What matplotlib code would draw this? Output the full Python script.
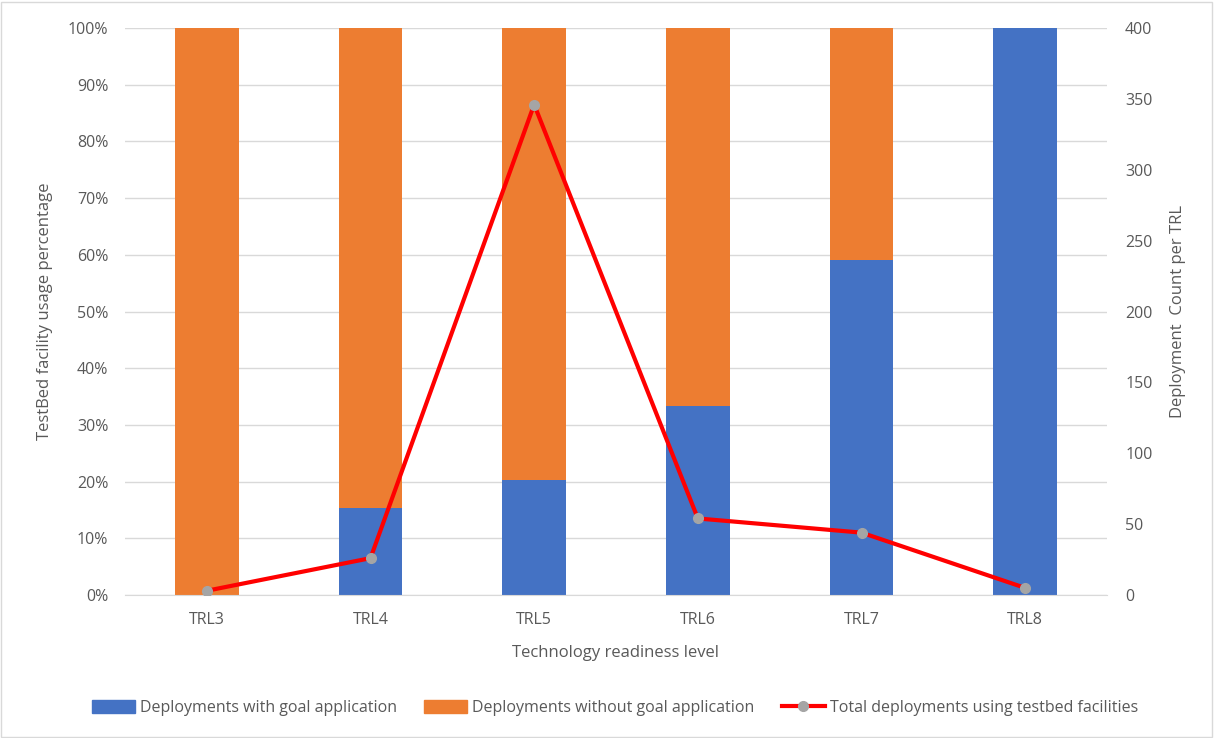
import matplotlib
matplotlib.use("Agg")
import matplotlib.pyplot as plt
from matplotlib.patches import Rectangle
from matplotlib.lines import Line2D
from matplotlib.ticker import FuncFormatter, MultipleLocator

categories = ["TRL3", "TRL4", "TRL5", "TRL6", "TRL7", "TRL8"]
with_goal_pct = [0.0, 15.4, 20.3, 33.3, 59.1, 100.0]
without_goal_pct = [100 - v for v in with_goal_pct]
total_deployments = [3, 26, 346, 54, 44, 5]

BLUE = "#4472C4"
ORANGE = "#ED7D31"
TEXT = "#595959"
GRID = "#D9D9D9"
FS = 11.5

plt.rcParams["font.family"] = ["Open Sans", "DejaVu Sans"]

fig = plt.figure(figsize=(12.14, 7.38), dpi=100)
ax = fig.add_axes([125 / 1214, 1 - 595 / 738, (1107 - 125) / 1214, (595 - 28) / 738])

x = range(len(categories))
w = 0.39
ax.bar(x, with_goal_pct, w, color=BLUE, zorder=2)
ax.bar(x, without_goal_pct, w, bottom=with_goal_pct, color=ORANGE, zorder=2)
ax.set_xlim(-0.5, len(categories) - 0.5)
ax.set_ylim(0, 100)
ax.yaxis.set_major_locator(MultipleLocator(10))
ax.yaxis.set_major_formatter(FuncFormatter(lambda v, p: f"{v:.0f}%"))
ax.set_xticks(list(x))
ax.set_xticklabels(categories)
ax.grid(axis="y", color=GRID, linewidth=1, zorder=0)
for s in ["top", "left", "right"]:
    ax.spines[s].set_visible(False)
ax.spines["bottom"].set_color(GRID)
ax.tick_params(axis="both", length=0, colors=TEXT, labelsize=FS)
ax.tick_params(axis="x", pad=12)
ax.tick_params(axis="y", pad=12)
ax.set_ylabel("TestBed facility usage percentage", color=TEXT, fontsize=FS + 0.5)
ax.yaxis.set_label_coords((53 - 125) / 982, 0.5)
ax.set_xlabel("Technology readiness level", color=TEXT, fontsize=FS + 0.5)
ax.xaxis.set_label_coords(0.5, (595 - 645) / 567)

ax2 = ax.twinx()
ax2.plot(list(x), total_deployments, color="#FF0000", linewidth=3, marker="o",
         markersize=7, markerfacecolor="#A5A5A5", markeredgecolor="#A5A5A5", zorder=3)
ax2.set_ylim(0, 400)
ax2.yaxis.set_major_locator(MultipleLocator(50))
for s in ["top", "left", "right", "bottom"]:
    ax2.spines[s].set_visible(False)
ax2.tick_params(axis="y", length=0, colors=TEXT, labelsize=FS, pad=13)
ax2.set_ylabel("Deployment  Count per TRL", color=TEXT, fontsize=FS + 0.5)
ax2.yaxis.set_label_coords((1170 - 125) / 982, 0.5)

handles = [
    Rectangle((0, 0), 1, 1, color=BLUE),
    Rectangle((0, 0), 1, 1, color=ORANGE),
    Line2D([0], [0], color="#FF0000", linewidth=3, marker="o", markersize=7,
           markerfacecolor="#A5A5A5", markeredgecolor="#A5A5A5"),
]
labels = ["Deployments with goal application", "Deployments without goal application",
          "Total deployments using testbed facilities"]
leg = fig.legend(handles, labels, loc="center", bbox_to_anchor=(615 / 1214, 1 - 708 / 738),
                 ncol=3, frameon=False, fontsize=FS, handlelength=2.7, handleheight=0.9,
                 columnspacing=1.7, handletextpad=0.3)
for t in leg.get_texts():
    t.set_color(TEXT)

fig.patches.append(Rectangle((1 / 1214, 1 / 738), 1 - 3 / 1214, 1 - 3 / 738,
                             transform=fig.transFigure, fill=False,
                             edgecolor="#D9D9D9", linewidth=1))

fig.savefig("out.png", dpi=100)
